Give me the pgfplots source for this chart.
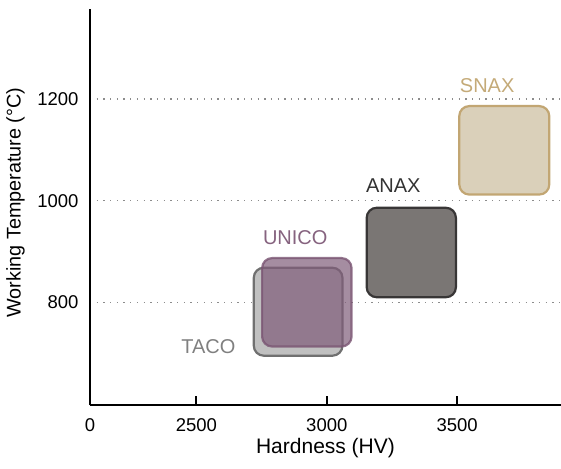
\documentclass[border=0pt]{standalone}
\usepackage{fontspec}
\setmainfont{Liberation Sans}
\usepackage{pgfplots}
\pgfplotsset{compat=1.18}
\definecolor{tacofill}{HTML}{C0C0C0}
\definecolor{tacoedge}{HTML}{707070}
\definecolor{tacotext}{HTML}{808080}
\definecolor{unicofill}{HTML}{7F5C79}
\definecolor{unicoedge}{HTML}{7A5573}
\definecolor{unicotext}{HTML}{86637F}
\definecolor{anaxfill}{HTML}{7A7674}
\definecolor{anaxedge}{HTML}{383636}
\definecolor{anaxtext}{HTML}{333333}
\definecolor{snaxfill}{HTML}{DAD0BA}
\definecolor{snaxedge}{HTML}{C2A673}
\definecolor{snaxtext}{HTML}{C4AA78}
\definecolor{gridc}{HTML}{8C8C8C}
\begin{document}
\begin{tikzpicture}
\begin{axis}[
  scale only axis,
  width=471bp, height=396bp,
  xmin=2092, xmax=3898,
  ymin=598, ymax=1377,
  axis x line*=bottom, axis y line*=left,
  axis line style={line width=2.2bp, black, -},
  xtick={2092,2500,3000,3500},
  xticklabels={0,2500,3000,3500},
  ytick={800,1000,1200},
  yticklabels={800,1000,1200},
  xtick align=inside,
  major tick length=9bp,
  every tick/.style={line width=2bp, black},
  y tick style={draw=none},
  ymajorgrids,
  grid style={gridc, line width=1.3bp, dash pattern=on 1.3bp off 5.4bp},
  /pgf/number format/assume math mode=true,
  tick label style={font=\fontsize{18.5bp}{22bp}\selectfont},
  xticklabel style={anchor=base, yshift=-26.7bp},
  yticklabel style={xshift=-8bp},
  xlabel={Hardness (HV)},
  ylabel={Working Temperature (°C)},
  xlabel style={font=\fontsize{21bp}{25bp}\selectfont, at={(axis description cs:0.5,-0.122)}, anchor=base},
  ylabel style={font=\fontsize{19.8bp}{24bp}\selectfont, at={(axis description cs:-0.158,0.511)}, anchor=center},
  clip=false,
]
% TACO
\addplot[mark=none, fill=tacofill, draw=tacoedge, line width=2.2bp, rounded corners=10bp]
  coordinates {(2720,695) (3060,695) (3060,868) (2720,868)} -- cycle;
% UNICO
\addplot[mark=none, fill=unicofill, fill opacity=0.7, draw=unicoedge, draw opacity=0.8, line width=2.2bp, rounded corners=10bp]
  coordinates {(2752,713) (3095,713) (3095,887) (2752,887)} -- cycle;
% ANAX
\addplot[mark=none, fill=anaxfill, draw=anaxedge, line width=2.2bp, rounded corners=10bp]
  coordinates {(3153,810) (3495,810) (3495,986) (3153,986)} -- cycle;
% SNAX
\addplot[mark=none, fill=snaxfill, draw=snaxedge, line width=2.2bp, rounded corners=10bp]
  coordinates {(3508,1012) (3853,1012) (3853,1186) (3508,1186)} -- cycle;
\node[text=tacotext, font=\fontsize{20bp}{24bp}\selectfont] at (axis cs:2546,712) {TACO};
\node[text=unicotext, font=\fontsize{20bp}{24bp}\selectfont] at (axis cs:2879,928) {UNICO};
\node[text=anaxtext, font=\fontsize{20bp}{24bp}\selectfont] at (axis cs:3255,1029) {ANAX};
\node[text=snaxtext, font=\fontsize{20bp}{24bp}\selectfont] at (axis cs:3615,1227) {SNAX};
\end{axis}
\pgfresetboundingbox
\path ([shift={(-90bp,-64bp)}]current axis.south west) rectangle ([shift={(0bp,9bp)}]current axis.north east);
\end{tikzpicture}
\end{document}
